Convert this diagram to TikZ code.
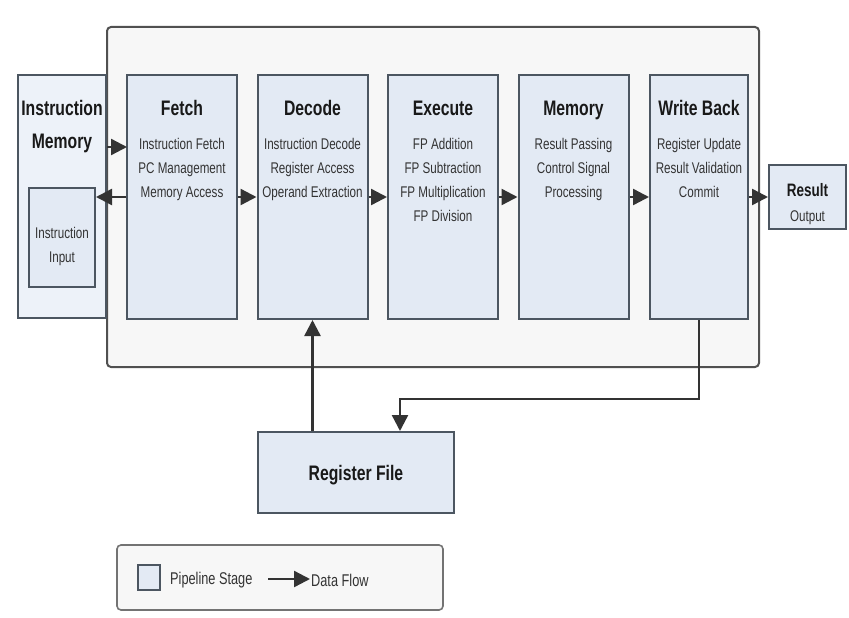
\documentclass[tikz,border=0pt]{standalone}
\usepackage{fontspec}
\newfontfamily\narrowsans{Liberation Sans}[FakeStretch=0.75]
\usetikzlibrary{arrows.meta}
\definecolor{boxline}{HTML}{4C5661}
\definecolor{stagefill}{HTML}{E3EAF4}
\definecolor{memfill}{HTML}{EDF2F9}
\definecolor{panelfill}{HTML}{F7F7F7}
\definecolor{panelline}{HTML}{505050}
\definecolor{flowline}{HTML}{333333}
\tikzset{
  stage/.style={draw=boxline, fill=stagefill, line width=2pt,
    minimum width=110pt, minimum height=244pt, inner sep=0pt},
  stagetitle/.style={font=\narrowsans\bfseries\fontsize{21}{33}\selectfont,
    align=center, anchor=base, inner sep=0pt, text=black!90},
  stagebody/.style={font=\narrowsans\fontsize{15.5}{24}\selectfont,
    align=center, anchor=north, inner sep=0pt, text=black!80},
  flow/.style={draw=flowline, line width=2.4pt,
    -{Triangle[length=16pt,width=16pt]}},
}
\begin{document}
\begin{tikzpicture}[x=1pt,y=-1pt]
  \useasboundingbox (0,0) rectangle (849,618);
  \draw[panelline, fill=panelfill, line width=2pt, rounded corners=4pt]
    (107,27) rectangle (759,367);
  \node[stage, fill=memfill, minimum width=88pt, minimum height=243pt]
    (imem) at (62,196.5) {};
  \node[stage, minimum width=66pt, minimum height=99pt] (input) at (62,237.5) {};
  \node[stagetitle, anchor=north] at (62,100) {Instruction\\Memory};
  \node[stagebody] at (62,227) {Instruction\\Input};
  \node[stage] (fetch) at (182,197) {};
  \node[stage] (decode) at (312.5,197) {};
  \node[stage] (execute) at (443,197) {};
  \node[stage] (memory) at (573.5,197) {};
  \node[stage, minimum width=98pt] (writeback) at (699,197) {};
  \node[stagetitle] at (182,115.5) {Fetch};
  \node[stagetitle] at (312.5,115.5) {Decode};
  \node[stagetitle] at (443,115.5) {Execute};
  \node[stagetitle] at (573.5,115.5) {Memory};
  \node[stagetitle] at (699,115.5) {Write Back};
  \node[stagebody] at (182,138) {Instruction Fetch\\PC Management\\Memory Access};
  \node[stagebody] at (312.5,138) {Instruction Decode\\Register Access\\Operand Extraction};
  \node[stagebody] at (443,138) {FP Addition\\FP Subtraction\\FP Multiplication\\FP Division};
  \node[stagebody] at (573.5,138) {Result Passing\\Control Signal\\Processing};
  \node[stagebody] at (699,138) {Register Update\\Result Validation\\Commit};
  \node[stage, minimum width=77pt, minimum height=64pt] (result) at (807.5,197) {};
  \node[stagetitle, font=\narrowsans\bfseries\fontsize{18}{26}\selectfont] at (807.5,196) {Result};
  \node[stagebody] at (807.5,210) {Output};
  \node[stage, minimum width=196pt, minimum height=81pt] (regfile) at (356,472.5) {};
  \node[stagetitle] at (356,480) {Register File};
  \coordinate (fetchin) at (127,147);
  \coordinate (bend) at (400,399);
  \begin{scope}
    \draw[flow] (imem.east |- fetchin) -- (fetchin);
    \draw[flow] (fetch.west) -- (fetch.west -| input.east);
    \draw[flow] (fetch.east) -- (decode.west);
    \draw[flow] (decode.east) -- (execute.west);
    \draw[flow] (execute.east) -- (memory.west);
    \draw[flow] (memory.east) -- (writeback.west);
    \draw[flow] (writeback.east) -- (result.west);
    \draw[flow] (regfile.north -| decode.south) -- (decode.south);
    \draw[flow] (writeback.south) |- (bend) -- (bend |- regfile.north);
  \end{scope}
  \draw[panelline!80, fill=panelfill, line width=1.6pt, rounded corners=4pt]
    (117,545) rectangle (443,610);
  \node[draw=boxline, fill=stagefill, line width=1.6pt, minimum width=22pt,
    minimum height=25pt, inner sep=0pt] (key) at (149,577.5) {};
  \node[stagebody, anchor=west, font=\narrowsans\fontsize{17}{24}\selectfont]
    (keytext) at (170,580) {Pipeline Stage};
  \coordinate (flowstart) at (268,579);
  \coordinate (flowend) at (310,579);
  \draw[flow] (flowstart) -- (flowend);
  \node[stagebody, anchor=west, font=\narrowsans\fontsize{17}{24}\selectfont]
    (flowtext) at (311,580) {Data Flow};
\end{tikzpicture}
\end{document}
